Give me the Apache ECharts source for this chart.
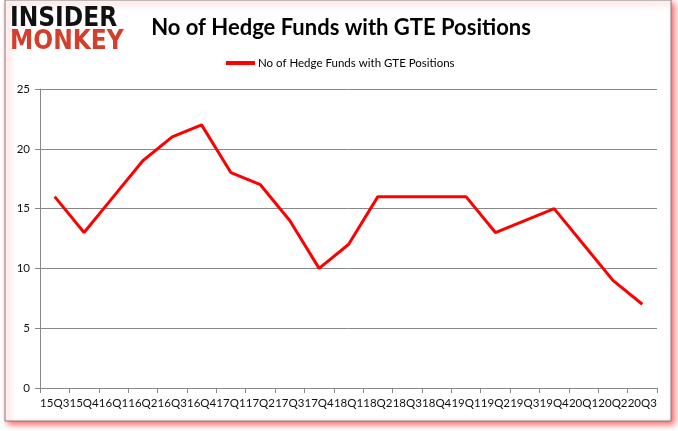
<!DOCTYPE html>
<html><head><meta charset="utf-8">
<script src="https://cdn.jsdelivr.net/npm/echarts@6/dist/echarts.min.js"></script>
<style>html,body{margin:0;padding:0;background:#fff}#c{width:678px;height:431px}</style>
</head><body><div id="c"></div>
<script>
const categories = ["15Q3","15Q4","16Q1","16Q2","16Q3","16Q4","17Q1","17Q2","17Q3","17Q4","18Q1","18Q2","18Q3","18Q4","19Q1","19Q2","19Q3","19Q4","20Q1","20Q2","20Q3"];
const funds = [16,13,16,19,21,22,18,17,14,10,12,16,16,16,16,13,14,15,12,9,7];
const yTicks = [0,5,10,15,20,25];
const titleText = "No of Hedge Funds with GTE Positions";
const seriesName = "No of Hedge Funds with GTE Positions";

const chart = echarts.init(document.getElementById('c'));
chart.setOption({
  animation: false,
  backgroundColor: '#fff',
  graphic: [
    {type:'rect', shape:{x:5,y:0,width:666,height:421}, style:{fill:'#fff', stroke:'#7f7f7f', lineWidth:1, shadowColor:'rgba(255,0,0,0.6)', shadowBlur:6, shadowOffsetX:3, shadowOffsetY:3}, z:-10},
    {type:'text', left:10, top:6, style:{text:'INSIDER', font:'bold 26px "DejaVu Sans Condensed"', fill:'#111'}, z:10},
    {type:'text', left:10, top:29, style:{text:'MONKEY', font:'bold 26px "DejaVu Sans Condensed"', fill:'#d23f2c'}, z:10}
  ],
  title: {
    text: titleText, left: 336, top: 12, textAlign: 'center',
    textStyle: {fontFamily:'Lato', fontSize: 22, fontWeight: 'bold', color:'#000'}
  },
  legend: {
    data: [seriesName], top: 52, left: 221, itemWidth: 29, itemHeight: 4, itemGap: 4,
    icon: 'rect',
    textStyle: {fontFamily:'Lato', fontSize: 11.5, color:'#000', padding:[0,0,0,-2]}
  },
  grid: {left: 40, right: 21, top: 89, bottom: 43},
  xAxis: {
    type: 'category', data: categories, boundaryGap: true,
    axisLine: {lineStyle:{color:'#888'}},
    axisTick: {show:true, length:5, lineStyle:{color:'#888'}},
    axisLabel: {interval:0, fontFamily:'Lato', fontSize: 11.5, color:'#111', margin: 9}
  },
  yAxis: {
    type: 'value', min: yTicks[0], max: yTicks[yTicks.length-1], interval: 5,
    axisLine: {show:true, lineStyle:{color:'#888'}},
    axisTick: {show:true, length:5, lineStyle:{color:'#888'}},
    splitLine: {lineStyle:{color:'#888'}},
    axisLabel: {fontFamily:'Lato', fontSize: 11.5, color:'#111', margin: 10}
  },
  series: [{
    name: seriesName, type: 'line', data: funds, symbol: 'none',
    lineStyle: {color:'#ff0000', width: 3}, itemStyle:{color:'#ff0000'}
  }]
});
</script></body></html>
